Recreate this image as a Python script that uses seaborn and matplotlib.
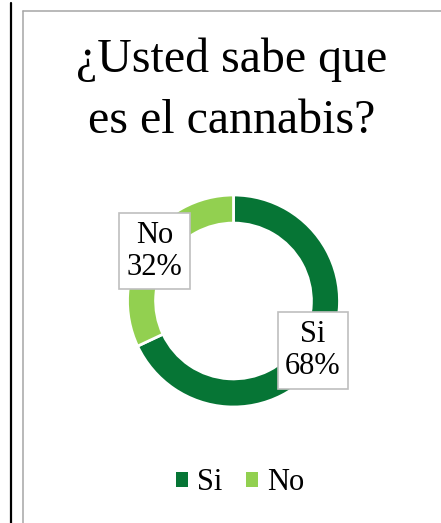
import matplotlib
matplotlib.use("Agg")
import matplotlib.pyplot as plt
import seaborn as sns
from matplotlib.patches import Patch
from matplotlib.lines import Line2D

#%% data
categories = ["Si", "No"]
percentages = [68, 32]
colors = ["#067535", "#92D050"]
title_lines = ["¿Usted sabe que", "es el cannabis?"]

#%% style
sns.set_style("white")
plt.rcParams['font.family'] = ['Liberation Serif', 'DejaVu Serif']
plt.rcParams['text.color'] = 'black'

W, H = 441, 523
fig = plt.figure(figsize=(W / 100, H / 100), dpi=100)
fig.patch.set_facecolor("white")

# borders like the original slide
fig.add_artist(Line2D([10.5 / W, 10.5 / W], [0, 1 - 3 / H], color="black", lw=1.6))
fig.add_artist(Line2D([22.5 / W, 22.5 / W], [0, 1 - 11 / H], color="#A6A6A6", lw=1.1))
fig.add_artist(Line2D([22.5 / W, 1], [1 - 11 / H, 1 - 11 / H], color="#A6A6A6", lw=1.1))

# title
fig.text(232 / W, 1 - 72 / H, title_lines[0], ha="center", va="baseline", fontsize=34.5)
fig.text(232 / W, 1 - 133 / H, title_lines[1], ha="center", va="baseline", fontsize=34.5)

#%% donut
cx, cy, r = 233.5, 301, 106
half = 130
ax = fig.add_axes([(cx - half) / W, (H - cy - half) / H, 2 * half / W, 2 * half / H])
ax.pie(percentages, colors=colors, startangle=90, counterclock=False,
       wedgeprops=dict(width=0.265, edgecolor="white", linewidth=2))
lim = half / r
ax.set_xlim(-lim, lim)
ax.set_ylim(-lim, lim)
ax.set_aspect("equal")
ax.axis("off")

label_pos = {"Si": (0.75, -0.467), "No": (-0.745, 0.47)}
for cat, pct in zip(categories, percentages):
    x, y = label_pos[cat]
    ax.text(x, y, f"{cat}\n{pct}%", ha="center", va="center", fontsize=22,
            linespacing=1.15,
            bbox=dict(boxstyle="square,pad=0.25", facecolor="white", edgecolor="#BFBFBF", lw=1.2))

#%% legend
handles = [Patch(facecolor=c, edgecolor="none") for c in colors]
fig.legend(handles, categories, loc="center", bbox_to_anchor=(240 / W, 1 - 483 / H),
           ncol=2, frameon=False, fontsize=22, handlelength=0.4, handleheight=0.4,
           handletextpad=0.3, columnspacing=0.75)

fig.savefig("out.png", dpi=100)
